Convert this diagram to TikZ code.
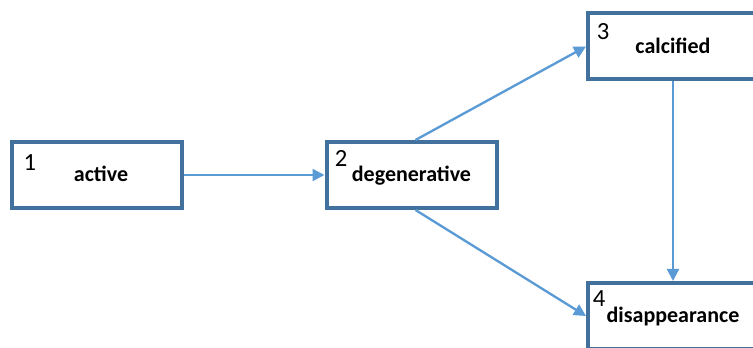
\documentclass[tikz,border=0pt]{standalone}
\usepackage{fontspec}
\setmainfont{Carlito}
\usetikzlibrary{arrows.meta}
\definecolor{boxblue}{HTML}{41719C}
\definecolor{linkblue}{HTML}{5B9BD5}
\begin{document}
\begin{tikzpicture}[x=0.75pt,y=-0.75pt,
        stage/.style={draw=boxblue, line width=3pt, fill=white, rectangle,
            minimum width=127.5pt, minimum height=49.5pt, inner sep=0pt,
            text height=10.5pt, text depth=0pt,
            font=\fontsize{16.5}{20}\selectfont\bfseries},
        stagenum/.style={anchor=north west, inner sep=0pt,
            font=\fontsize{18.5}{22}\selectfont},
        link/.style={draw=linkblue, line width=1.75pt,
            -{Triangle[length=9pt,width=9pt]}}]
    \useasboundingbox (0,0) rectangle (753,348);
    \clip (0,0) rectangle (753,348);
    % the four stages
    \node[stage] (active) at (97,175) {\hspace{6pt}active};
    \node[stage] (degen) at (411.5,175) {degenerative};
    \node[stage] (calc) at (673,46.5) {calcified};
    \node[stage] (gone) at (673,316) {disappearance};
    % numbers in the corners
    \node[stagenum] (n1) at ([xshift=10pt,yshift=-11pt]active.north west) {1};
    \node[stagenum] (n2) at ([xshift=7.5pt,yshift=-7.5pt]degen.north west) {2};
    \node[stagenum] (n3) at ([xshift=8pt,yshift=-8.5pt]calc.north west) {3};
    \node[stagenum] (n4) at ([xshift=5pt,yshift=-7pt]gone.north west) {4};
    % transitions
    \draw[link] (active.east) -- (degen.west);
    \draw[link] ([xshift=3pt]degen.north) -- (calc.west);
    \draw[link] ([xshift=3pt]degen.south) -- (gone.west);
    \draw[link] (calc.south) -- (gone.north);
\end{tikzpicture}
\end{document}
